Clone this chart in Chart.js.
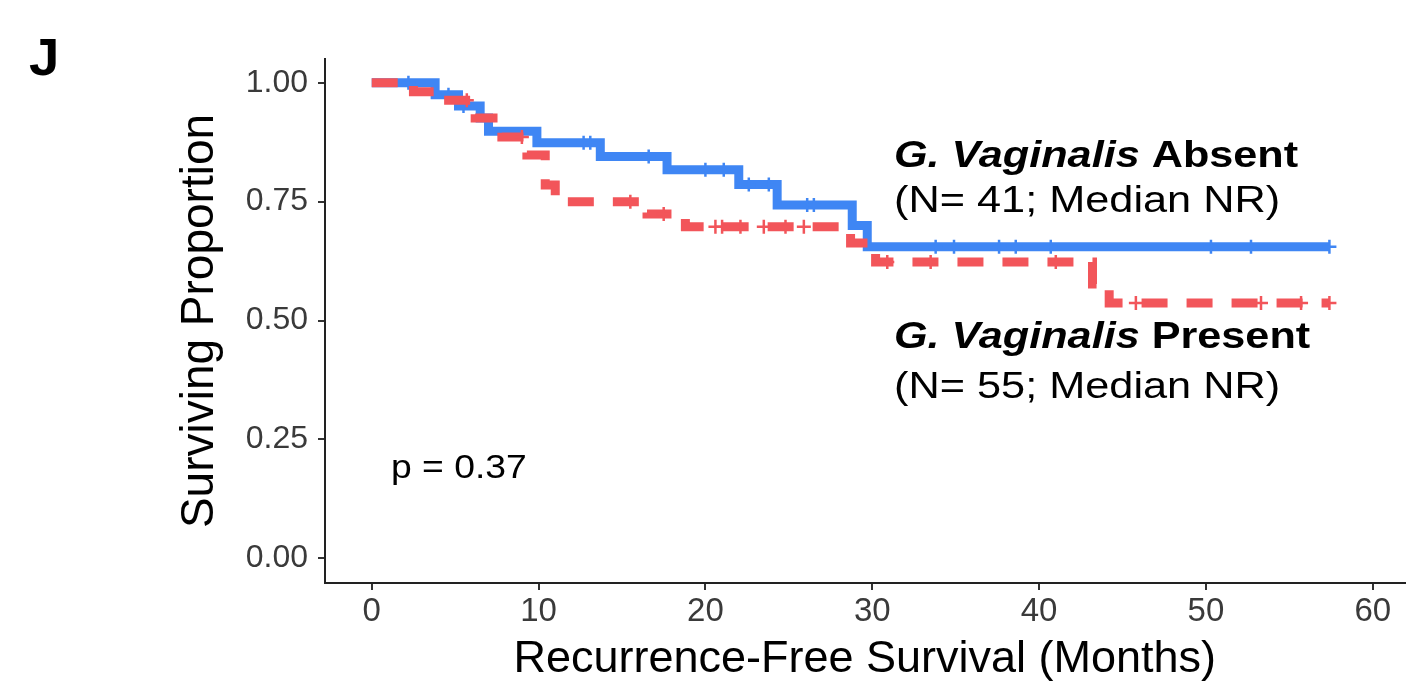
<!DOCTYPE html>
<html lang="en">
<head>
    <meta charset="UTF-8">
    <title>Recurrence-Free Survival</title>
    <script src="https://cdn.jsdelivr.net/npm/chart.js"></script>
    <style>
        body { margin: 0; background: #fff; }
        canvas { display: block; }
    </style>
</head>
<body>
    <canvas id="chart" width="1414" height="687"></canvas>

    <script>
        // Kaplan-Meier steps (months, surviving proportion)
        const absentTimes = [0, 3.8, 5.2, 6.5, 7.0, 9.9, 13.7, 17.7, 22.0, 24.3, 28.8, 29.7, 57.4];
        const absentSurv  = [1.0, 0.975, 0.951, 0.926, 0.898, 0.874, 0.845, 0.817, 0.786, 0.743, 0.700, 0.655, 0.655];
        const absentCensor = [2.2, 4.6, 5.5, 12.7, 13.1, 16.6, 20.0, 21.1, 22.6, 23.8, 26.1, 26.5, 33.8, 34.9, 37.6, 38.6, 40.7, 50.3, 52.7, 57.4];

        const presentTimes = [0, 2.5, 4.1, 6.2, 7.8, 9.3, 10.4, 11.0, 16.5, 18.8, 28.7, 30.2, 43.2, 44.2, 57.4];
        const presentSurv  = [1.0, 0.981, 0.963, 0.926, 0.886, 0.848, 0.785, 0.750, 0.724, 0.697, 0.663, 0.623, 0.577, 0.537, 0.537];
        const presentCensor = [5.7, 9.0, 15.5, 17.5, 20.6, 21.0, 22.1, 23.5, 24.8, 25.9, 30.9, 33.5, 41.0, 45.8, 53.3, 55.7, 57.4];

        const xTicks = [0, 10, 20, 30, 40, 50, 60];
        const yTicks = [0, 0.25, 0.5, 0.75, 1.0];

        const BLUE = "#3f86f4";
        const RED = "#f2555a";
        const FONT = "'Liberation Sans', Arial, sans-serif";

        function survAt(times, surv, t) {
            let s = surv[0];
            for (let i = 0; i < times.length; i++) {
                if (times[i] <= t) s = surv[i];
            }
            return s;
        }

        const toPoints = (times, surv) => times.map((t, i) => ({ x: t, y: surv[i] }));
        const censorPoints = (cens, times, surv) => cens.map(t => ({ x: t, y: survAt(times, surv, t) }));

        // text drawn a bit wider than the font, like the original figure
        function drawParts(ctx, parts, x, y, sx) {
            ctx.save();
            ctx.translate(x, y);
            ctx.scale(sx, 1);
            ctx.textBaseline = "alphabetic";
            ctx.textAlign = "left";
            ctx.fillStyle = "#000";
            let cx = 0;
            parts.forEach(p => {
                ctx.font = p.font;
                ctx.fillText(p.text, cx, 0);
                cx += ctx.measureText(p.text).width;
            });
            ctx.restore();
        }

        const labels = {
            id: "labels",
            afterDraw(chart) {
                const ctx = chart.ctx;
                drawParts(ctx, [{ text: "J", font: "bold 52px " + FONT }], 29, 75, 1.05);
                drawParts(ctx, [
                    { text: "G. Vaginalis", font: "italic bold 36px " + FONT },
                    { text: " Absent", font: "bold 36px " + FONT }
                ], 894, 167, 1.2);
                drawParts(ctx, [{ text: "(N= 41; Median NR)", font: "37px " + FONT }], 894, 212, 1.17);
                drawParts(ctx, [
                    { text: "G. Vaginalis", font: "italic bold 36px " + FONT },
                    { text: " Present", font: "bold 36px " + FONT }
                ], 894, 348, 1.2);
                drawParts(ctx, [{ text: "(N= 55; Median NR)", font: "37px " + FONT }], 894, 398, 1.17);
                drawParts(ctx, [{ text: "p = 0.37", font: "33px " + FONT }], 391, 478, 1.13);
            }
        };

        new Chart(document.getElementById("chart"), {
            type: "line",
            data: {
                datasets: [
                    {
                        label: "Present censored",
                        type: "scatter",
                        data: censorPoints(presentCensor, presentTimes, presentSurv),
                        pointStyle: "cross",
                        pointRadius: 7,
                        borderColor: RED,
                        backgroundColor: RED,
                        pointBorderWidth: 2.5,
                        order: 0
                    },
                    {
                        label: "G. Vaginalis Present",
                        data: toPoints(presentTimes, presentSurv),
                        stepped: true,
                        borderColor: RED,
                        borderWidth: 9,
                        borderDash: [26, 19],
                        borderCapStyle: "butt",
                        pointRadius: 0,
                        fill: false,
                        order: 1
                    },
                    {
                        label: "Absent censored",
                        type: "scatter",
                        data: censorPoints(absentCensor, absentTimes, absentSurv),
                        pointStyle: "cross",
                        pointRadius: 7,
                        borderColor: BLUE,
                        backgroundColor: BLUE,
                        pointBorderWidth: 2.5,
                        order: 2
                    },
                    {
                        label: "G. Vaginalis Absent",
                        data: toPoints(absentTimes, absentSurv),
                        stepped: true,
                        borderColor: BLUE,
                        borderWidth: 9,
                        pointRadius: 0,
                        fill: false,
                        order: 3
                    }
                ]
            },
            options: {
                responsive: false,
                animation: false,
                layout: { padding: { left: 173, top: 59, right: 0, bottom: 0 } },
                plugins: {
                    legend: { display: false },
                    tooltip: { enabled: false }
                },
                scales: {
                    x: {
                        type: "linear",
                        min: -2.8,
                        max: 61.9,
                        afterBuildTicks: axis => { axis.ticks = xTicks.map(v => ({ value: v })); },
                        afterFit: scale => { scale.height = 104; },
                        ticks: {
                            color: "#3a3a3a",
                            padding: 2,
                            font: { family: FONT, size: 33 }
                        },
                        grid: { drawOnChartArea: false, drawTicks: true, tickLength: 7, color: "#333", lineWidth: 2 },
                        border: { display: true, color: "#222", width: 2 },
                        title: {
                            display: true,
                            text: "Recurrence-Free Survival (Months)",
                            color: "#000",
                            padding: 0,
                            font: { family: FONT, size: 45 }
                        }
                    },
                    y: {
                        min: -0.052,
                        max: 1.05,
                        afterBuildTicks: axis => { axis.ticks = yTicks.map(v => ({ value: v })); },
                        afterFit: scale => { scale.width = 152; },
                        ticks: {
                            color: "#3a3a3a",
                            padding: 10,
                            font: { family: FONT, size: 32 },
                            callback: v => v.toFixed(2)
                        },
                        grid: { drawOnChartArea: false, drawTicks: true, tickLength: 7, color: "#333", lineWidth: 2 },
                        border: { display: true, color: "#222", width: 2 },
                        title: {
                            display: true,
                            text: "Surviving Proportion",
                            color: "#000",
                            padding: 0,
                            font: { family: FONT, size: 46 }
                        }
                    }
                }
            },
            plugins: [labels]
        });
    </script>
</body>
</html>
